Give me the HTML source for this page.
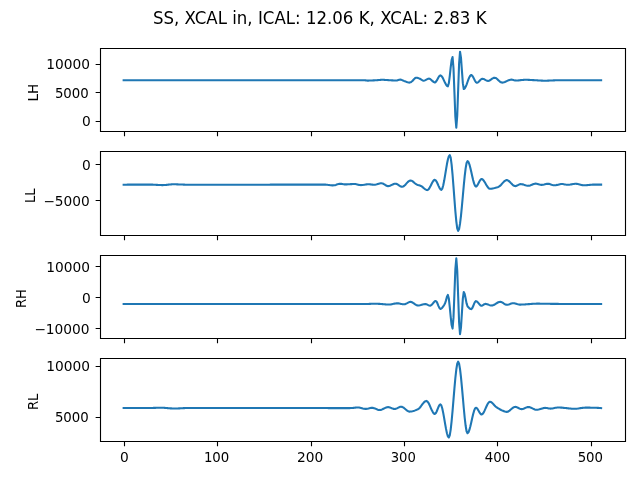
<!DOCTYPE html>
<html><head><meta charset="utf-8"><title>SS, XCAL in</title>
<style>html,body{margin:0;padding:0;background:#fff;}svg{display:block;will-change:transform;}text{font-family:"DejaVu Sans","Liberation Sans",sans-serif;fill:#000;}</style>
</head><body>
<svg width="640" height="480" viewBox="0 0 640 480">
<rect width="640" height="480" fill="#fff"/>
<path d="M123.65 80.30 L124.59 80.30 L125.52 80.30 L126.45 80.30 L127.39 80.30 L128.32 80.30 L129.26 80.30 L130.19 80.30 L131.13 80.30 L132.06 80.30 L133.00 80.30 L133.93 80.30 L134.86 80.30 L135.80 80.30 L136.73 80.30 L137.67 80.30 L138.60 80.30 L139.54 80.30 L140.47 80.30 L141.40 80.30 L142.34 80.30 L143.27 80.30 L144.21 80.30 L145.14 80.30 L146.08 80.30 L147.01 80.30 L147.95 80.30 L148.88 80.30 L149.81 80.30 L150.75 80.30 L151.68 80.30 L152.62 80.30 L153.55 80.30 L154.49 80.30 L155.42 80.30 L156.36 80.30 L157.29 80.30 L158.22 80.30 L159.16 80.30 L160.09 80.30 L161.03 80.30 L161.96 80.30 L162.90 80.30 L163.83 80.30 L164.76 80.30 L165.70 80.30 L166.63 80.30 L167.57 80.30 L168.50 80.30 L169.44 80.30 L170.37 80.30 L171.31 80.30 L172.24 80.30 L173.17 80.30 L174.11 80.30 L175.04 80.30 L175.98 80.30 L176.91 80.30 L177.85 80.30 L178.78 80.30 L179.72 80.30 L180.65 80.30 L181.58 80.30 L182.52 80.30 L183.45 80.30 L184.39 80.30 L185.32 80.30 L186.26 80.30 L187.19 80.30 L188.12 80.30 L189.06 80.30 L189.99 80.30 L190.93 80.30 L191.86 80.30 L192.80 80.30 L193.73 80.30 L194.67 80.30 L195.60 80.30 L196.53 80.30 L197.47 80.30 L198.40 80.30 L199.34 80.30 L200.27 80.30 L201.21 80.30 L202.14 80.30 L203.07 80.30 L204.01 80.30 L204.94 80.30 L205.88 80.30 L206.81 80.30 L207.75 80.30 L208.68 80.30 L209.62 80.30 L210.55 80.30 L211.48 80.30 L212.42 80.30 L213.35 80.30 L214.29 80.30 L215.22 80.30 L216.16 80.30 L217.09 80.30 L218.03 80.30 L218.96 80.30 L219.89 80.30 L220.83 80.30 L221.76 80.30 L222.70 80.30 L223.63 80.30 L224.57 80.30 L225.50 80.30 L226.43 80.30 L227.37 80.30 L228.30 80.30 L229.24 80.30 L230.17 80.30 L231.11 80.30 L232.04 80.30 L232.98 80.30 L233.91 80.30 L234.84 80.30 L235.78 80.30 L236.71 80.30 L237.65 80.30 L238.58 80.30 L239.52 80.30 L240.45 80.30 L241.39 80.30 L242.32 80.30 L243.25 80.30 L244.19 80.30 L245.12 80.30 L246.06 80.30 L246.99 80.30 L247.93 80.30 L248.86 80.30 L249.79 80.30 L250.73 80.30 L251.66 80.30 L252.60 80.30 L253.53 80.30 L254.47 80.30 L255.40 80.30 L256.34 80.30 L257.27 80.30 L258.20 80.30 L259.14 80.30 L260.07 80.30 L261.01 80.30 L261.94 80.30 L262.88 80.30 L263.81 80.30 L264.74 80.30 L265.68 80.30 L266.61 80.30 L267.55 80.30 L268.48 80.30 L269.42 80.30 L270.35 80.30 L271.29 80.30 L272.22 80.30 L273.15 80.30 L274.09 80.30 L275.02 80.30 L275.96 80.30 L276.89 80.30 L277.83 80.30 L278.76 80.30 L279.70 80.30 L280.63 80.30 L281.56 80.30 L282.50 80.30 L283.43 80.30 L284.37 80.30 L285.30 80.30 L286.24 80.30 L287.17 80.30 L288.10 80.30 L289.04 80.30 L289.97 80.30 L290.91 80.30 L291.84 80.30 L292.78 80.30 L293.71 80.30 L294.65 80.30 L295.58 80.30 L296.51 80.30 L297.45 80.30 L298.38 80.30 L299.32 80.30 L300.25 80.30 L301.19 80.30 L302.12 80.30 L303.05 80.30 L303.99 80.30 L304.92 80.30 L305.86 80.30 L306.79 80.30 L307.73 80.30 L308.66 80.30 L309.60 80.30 L310.53 80.30 L311.46 80.30 L312.40 80.30 L313.33 80.30 L314.27 80.30 L315.20 80.30 L316.14 80.30 L317.07 80.30 L318.01 80.30 L318.94 80.30 L319.87 80.30 L320.81 80.30 L321.74 80.30 L322.68 80.30 L323.61 80.30 L324.55 80.30 L325.48 80.30 L326.41 80.30 L327.35 80.30 L328.28 80.30 L329.22 80.30 L330.15 80.30 L331.09 80.30 L332.02 80.30 L332.96 80.30 L333.89 80.30 L334.82 80.30 L335.76 80.30 L336.69 80.30 L337.63 80.30 L338.56 80.30 L339.50 80.30 L340.43 80.30 L341.37 80.30 L342.30 80.30 L343.23 80.30 L344.17 80.30 L345.10 80.30 L346.04 80.30 L346.97 80.30 L347.91 80.30 L348.84 80.30 L349.77 80.30 L350.71 80.30 L351.64 80.30 L352.58 80.30 L353.51 80.30 L354.45 80.30 L355.38 80.30 L356.32 80.30 L357.25 80.30 L358.18 80.30 L359.12 80.30 L360.05 80.30 L360.99 80.30 L361.92 80.30 L362.86 80.30 L363.79 80.30 L364.72 80.30 L365.66 80.38 L366.59 80.52 L367.53 80.60 L368.46 80.59 L369.40 80.57 L370.33 80.54 L371.27 80.50 L372.20 80.45 L373.13 80.40 L374.07 80.35 L375.00 80.30 L375.94 80.24 L376.87 80.17 L377.81 80.09 L378.74 80.00 L379.68 79.93 L380.61 79.86 L381.54 79.82 L382.48 79.80 L383.41 79.82 L384.35 79.86 L385.28 79.92 L386.22 80.00 L387.15 80.07 L388.08 80.14 L389.02 80.20 L389.95 80.25 L390.89 80.30 L391.82 80.35 L392.76 80.40 L393.69 80.44 L394.63 80.47 L395.56 80.49 L396.49 80.50 L397.43 80.36 L398.36 80.05 L399.30 79.74 L400.23 79.60 L401.17 79.75 L402.10 80.10 L403.03 80.53 L403.97 80.90 L404.90 81.24 L405.84 81.61 L406.77 81.98 L407.71 82.29 L408.64 82.52 L409.58 82.60 L410.51 82.33 L411.44 81.80 L412.38 81.05 L413.31 79.99 L414.25 78.90 L415.18 78.04 L416.12 77.70 L417.05 77.80 L417.99 78.05 L418.92 78.39 L419.85 78.75 L420.79 79.25 L421.72 79.90 L422.66 80.46 L423.59 80.70 L424.53 80.54 L425.46 80.16 L426.39 79.65 L427.33 79.14 L428.26 78.76 L429.20 78.60 L430.13 78.97 L431.07 79.79 L432.00 80.60 L432.94 81.38 L433.87 82.15 L434.80 82.50 L435.74 81.97 L436.67 80.66 L437.61 78.95 L438.54 77.24 L439.48 75.93 L440.41 75.40 L441.35 75.87 L442.28 77.10 L443.21 78.85 L444.15 80.85 L445.08 82.85 L446.02 84.60 L446.95 85.83 L447.89 86.30 L448.82 83.26 L449.75 76.02 L450.69 67.38 L451.62 60.14 L452.56 57.10 L453.49 68.12 L454.43 92.37 L455.36 116.61 L456.30 127.63 L457.23 115.78 L458.16 89.71 L459.10 63.64 L460.03 51.79 L460.97 57.61 L461.90 70.40 L462.84 83.19 L463.77 89.00 L464.70 88.40 L465.64 86.81 L466.57 84.57 L467.51 82.00 L468.44 79.43 L469.38 77.19 L470.31 75.60 L471.25 75.00 L472.18 75.58 L473.11 77.02 L474.05 78.90 L474.98 80.78 L475.92 82.22 L476.85 82.80 L477.79 82.50 L478.72 81.75 L479.66 80.78 L480.59 79.80 L481.52 79.05 L482.46 78.75 L483.39 78.91 L484.33 79.31 L485.26 79.83 L486.20 80.34 L487.13 80.74 L488.06 80.90 L489.00 80.72 L489.93 80.27 L490.87 79.64 L491.80 78.96 L492.74 78.33 L493.67 77.88 L494.61 77.70 L495.54 77.91 L496.47 78.47 L497.41 79.25 L498.34 80.15 L499.28 81.05 L500.21 81.83 L501.15 82.39 L502.08 82.60 L503.02 82.52 L503.95 82.29 L504.88 81.95 L505.82 81.54 L506.75 81.10 L507.69 80.66 L508.62 80.25 L509.56 79.91 L510.49 79.68 L511.42 79.60 L512.36 79.69 L513.29 79.92 L514.23 80.18 L515.16 80.41 L516.10 80.50 L517.03 80.48 L517.97 80.43 L518.90 80.35 L519.83 80.25 L520.77 80.15 L521.70 80.05 L522.64 79.95 L523.57 79.87 L524.51 79.82 L525.44 79.80 L526.37 79.81 L527.31 79.83 L528.24 79.86 L529.18 79.90 L530.11 79.95 L531.05 80.00 L531.98 80.05 L532.92 80.10 L533.85 80.15 L534.78 80.20 L535.72 80.25 L536.65 80.30 L537.59 80.36 L538.52 80.42 L539.46 80.48 L540.39 80.54 L541.33 80.59 L542.26 80.63 L543.19 80.67 L544.13 80.69 L545.06 80.70 L546.00 80.69 L546.93 80.68 L547.87 80.65 L548.80 80.62 L549.73 80.58 L550.67 80.54 L551.60 80.50 L552.54 80.45 L553.47 80.40 L554.41 80.36 L555.34 80.32 L556.28 80.28 L557.21 80.25 L558.14 80.22 L559.08 80.21 L560.01 80.20 L560.95 80.20 L561.88 80.20 L562.82 80.20 L563.75 80.20 L564.68 80.20 L565.62 80.20 L566.55 80.20 L567.49 80.20 L568.42 80.20 L569.36 80.20 L570.29 80.20 L571.23 80.20 L572.16 80.20 L573.09 80.20 L574.03 80.20 L574.96 80.20 L575.90 80.20 L576.83 80.20 L577.77 80.20 L578.70 80.20 L579.64 80.20 L580.57 80.20 L581.50 80.20 L582.44 80.20 L583.37 80.20 L584.31 80.20 L585.24 80.20 L586.18 80.20 L587.11 80.20 L588.04 80.20 L588.98 80.20 L589.91 80.20 L590.85 80.20 L591.78 80.20 L592.72 80.20 L593.65 80.20 L594.59 80.20 L595.52 80.20 L596.45 80.20 L597.39 80.20 L598.32 80.20 L599.26 80.20 L600.19 80.20 L601.13 80.20" fill="none" stroke="#1f77b4" stroke-width="2.0833" stroke-linejoin="round" stroke-linecap="square"/>
<path d="M100.5 131.5V48.5M625.5 131.5V48.5M100.5 131.5H625.5M100.5 48.5H625.5" fill="none" stroke="#000" stroke-width="1.1111" stroke-linecap="square"/>
<path d="M124.5 131.5v4.861M217.5 131.5v4.861M311.5 131.5v4.861M404.5 131.5v4.861M497.5 131.5v4.861M591.5 131.5v4.861M100.5 121.5h-4.861M100.5 92.5h-4.861M100.5 64.5h-4.861" fill="none" stroke="#000" stroke-width="1.1111"/>
<path d="M123.65 184.70 L124.59 184.69 L125.52 184.68 L126.45 184.67 L127.39 184.66 L128.32 184.66 L129.26 184.65 L130.19 184.64 L131.13 184.64 L132.06 184.63 L133.00 184.63 L133.93 184.62 L134.86 184.62 L135.80 184.62 L136.73 184.61 L137.67 184.61 L138.60 184.61 L139.54 184.61 L140.47 184.60 L141.40 184.60 L142.34 184.60 L143.27 184.60 L144.21 184.60 L145.14 184.60 L146.08 184.60 L147.01 184.60 L147.95 184.60 L148.88 184.60 L149.81 184.60 L150.75 184.61 L151.68 184.63 L152.62 184.66 L153.55 184.70 L154.49 184.75 L155.42 184.80 L156.36 184.85 L157.29 184.90 L158.22 184.95 L159.16 185.00 L160.09 185.04 L161.03 185.07 L161.96 185.09 L162.90 185.10 L163.83 185.08 L164.76 185.03 L165.70 184.95 L166.63 184.86 L167.57 184.75 L168.50 184.65 L169.44 184.54 L170.37 184.45 L171.31 184.37 L172.24 184.32 L173.17 184.30 L174.11 184.30 L175.04 184.32 L175.98 184.33 L176.91 184.36 L177.85 184.38 L178.78 184.42 L179.72 184.45 L180.65 184.49 L181.58 184.52 L182.52 184.56 L183.45 184.60 L184.39 184.63 L185.32 184.67 L186.26 184.69 L187.19 184.72 L188.12 184.73 L189.06 184.75 L189.99 184.75 L190.93 184.75 L191.86 184.75 L192.80 184.75 L193.73 184.75 L194.67 184.74 L195.60 184.74 L196.53 184.74 L197.47 184.73 L198.40 184.73 L199.34 184.73 L200.27 184.72 L201.21 184.72 L202.14 184.72 L203.07 184.71 L204.01 184.71 L204.94 184.71 L205.88 184.70 L206.81 184.70 L207.75 184.70 L208.68 184.70 L209.62 184.70 L210.55 184.70 L211.48 184.70 L212.42 184.70 L213.35 184.70 L214.29 184.70 L215.22 184.70 L216.16 184.70 L217.09 184.70 L218.03 184.70 L218.96 184.70 L219.89 184.70 L220.83 184.70 L221.76 184.70 L222.70 184.70 L223.63 184.70 L224.57 184.70 L225.50 184.70 L226.43 184.70 L227.37 184.70 L228.30 184.70 L229.24 184.70 L230.17 184.70 L231.11 184.70 L232.04 184.70 L232.98 184.70 L233.91 184.70 L234.84 184.70 L235.78 184.70 L236.71 184.70 L237.65 184.70 L238.58 184.70 L239.52 184.70 L240.45 184.70 L241.39 184.70 L242.32 184.70 L243.25 184.70 L244.19 184.70 L245.12 184.70 L246.06 184.70 L246.99 184.70 L247.93 184.70 L248.86 184.70 L249.79 184.70 L250.73 184.70 L251.66 184.70 L252.60 184.70 L253.53 184.70 L254.47 184.70 L255.40 184.70 L256.34 184.70 L257.27 184.69 L258.20 184.69 L259.14 184.69 L260.07 184.69 L261.01 184.69 L261.94 184.69 L262.88 184.68 L263.81 184.68 L264.74 184.68 L265.68 184.68 L266.61 184.67 L267.55 184.67 L268.48 184.67 L269.42 184.67 L270.35 184.66 L271.29 184.66 L272.22 184.66 L273.15 184.66 L274.09 184.65 L275.02 184.65 L275.96 184.65 L276.89 184.64 L277.83 184.64 L278.76 184.64 L279.70 184.64 L280.63 184.63 L281.56 184.63 L282.50 184.63 L283.43 184.63 L284.37 184.62 L285.30 184.62 L286.24 184.62 L287.17 184.62 L288.10 184.61 L289.04 184.61 L289.97 184.61 L290.91 184.61 L291.84 184.61 L292.78 184.61 L293.71 184.60 L294.65 184.60 L295.58 184.60 L296.51 184.60 L297.45 184.60 L298.38 184.60 L299.32 184.60 L300.25 184.60 L301.19 184.60 L302.12 184.60 L303.05 184.60 L303.99 184.60 L304.92 184.60 L305.86 184.60 L306.79 184.60 L307.73 184.60 L308.66 184.60 L309.60 184.60 L310.53 184.60 L311.46 184.60 L312.40 184.60 L313.33 184.60 L314.27 184.60 L315.20 184.60 L316.14 184.60 L317.07 184.60 L318.01 184.60 L318.94 184.60 L319.87 184.60 L320.81 184.60 L321.74 184.60 L322.68 184.60 L323.61 184.60 L324.55 184.60 L325.48 184.63 L326.41 184.70 L327.35 184.81 L328.28 184.93 L329.22 185.07 L330.15 185.19 L331.09 185.30 L332.02 185.37 L332.96 185.40 L333.89 185.33 L334.82 185.15 L335.76 184.89 L336.69 184.60 L337.63 184.31 L338.56 184.05 L339.50 183.87 L340.43 183.80 L341.37 183.86 L342.30 184.01 L343.23 184.19 L344.17 184.34 L345.10 184.40 L346.04 184.39 L346.97 184.36 L347.91 184.31 L348.84 184.26 L349.77 184.20 L350.71 184.14 L351.64 184.09 L352.58 184.04 L353.51 184.01 L354.45 184.00 L355.38 184.06 L356.32 184.22 L357.25 184.43 L358.18 184.67 L359.12 184.88 L360.05 185.04 L360.99 185.10 L361.92 185.06 L362.86 184.96 L363.79 184.82 L364.72 184.65 L365.66 184.48 L366.59 184.34 L367.53 184.24 L368.46 184.20 L369.40 184.24 L370.33 184.36 L371.27 184.50 L372.20 184.64 L373.13 184.76 L374.07 184.80 L375.00 184.73 L375.94 184.56 L376.87 184.31 L377.81 184.02 L378.74 183.74 L379.68 183.49 L380.61 183.32 L381.54 183.25 L382.48 183.41 L383.41 183.82 L384.35 184.37 L385.28 184.98 L386.22 185.53 L387.15 185.94 L388.08 186.10 L389.02 186.00 L389.95 185.72 L390.89 185.34 L391.82 184.90 L392.76 184.46 L393.69 184.07 L394.63 183.80 L395.56 183.70 L396.49 183.87 L397.43 184.31 L398.36 184.92 L399.30 185.58 L400.23 186.19 L401.17 186.63 L402.10 186.80 L403.03 186.58 L403.97 186.00 L404.90 185.17 L405.84 184.17 L406.77 183.13 L407.71 182.13 L408.64 181.30 L409.58 180.72 L410.51 180.50 L411.44 180.69 L412.38 181.17 L413.31 181.87 L414.25 182.67 L415.18 183.47 L416.12 184.18 L417.05 184.70 L417.99 185.03 L418.92 185.30 L419.85 185.57 L420.79 185.90 L421.72 186.42 L422.66 187.13 L423.59 187.93 L424.53 188.73 L425.46 189.43 L426.39 189.91 L427.33 190.10 L428.26 189.66 L429.20 188.49 L430.13 186.84 L431.07 184.95 L432.00 183.06 L432.94 181.41 L433.87 180.24 L434.80 179.80 L435.74 180.35 L436.67 181.78 L437.61 183.74 L438.54 185.86 L439.48 187.82 L440.41 189.25 L441.35 189.80 L442.28 188.61 L443.21 185.42 L444.15 180.80 L445.08 175.32 L446.02 169.56 L446.95 164.08 L447.89 159.46 L448.82 156.27 L449.75 155.08 L450.69 157.68 L451.62 164.65 L452.56 174.74 L453.49 186.70 L454.43 199.29 L455.36 211.25 L456.30 221.35 L457.23 228.32 L458.16 230.92 L459.10 228.96 L460.03 223.66 L460.97 215.84 L461.90 206.34 L462.84 196.01 L463.77 185.68 L464.70 176.18 L465.64 168.36 L466.57 163.05 L467.51 161.10 L468.44 161.97 L469.38 164.32 L470.31 167.71 L471.25 171.73 L472.18 175.97 L473.11 179.99 L474.05 183.38 L474.98 185.73 L475.92 186.60 L476.85 186.04 L477.79 184.63 L478.72 182.80 L479.66 180.97 L480.59 179.56 L481.52 179.00 L482.46 179.33 L483.39 180.23 L484.33 181.53 L485.26 183.07 L486.20 184.68 L487.13 186.22 L488.06 187.52 L489.00 188.42 L489.93 188.75 L490.87 188.72 L491.80 188.63 L492.74 188.49 L493.67 188.30 L494.61 188.07 L495.54 187.81 L496.47 187.52 L497.41 187.22 L498.34 186.90 L499.28 186.41 L500.21 185.65 L501.15 184.71 L502.08 183.67 L503.02 182.62 L503.95 181.65 L504.88 180.85 L505.82 180.30 L506.75 180.10 L507.69 180.31 L508.62 180.86 L509.56 181.66 L510.49 182.60 L511.42 183.60 L512.36 184.54 L513.29 185.34 L514.23 185.89 L515.16 186.10 L516.10 185.95 L517.03 185.58 L517.97 185.10 L518.90 184.62 L519.83 184.25 L520.77 184.10 L521.70 184.17 L522.64 184.36 L523.57 184.62 L524.51 184.93 L525.44 185.23 L526.37 185.49 L527.31 185.68 L528.24 185.75 L529.18 185.66 L530.11 185.41 L531.05 185.07 L531.98 184.67 L532.92 184.28 L533.85 183.94 L534.78 183.69 L535.72 183.60 L536.65 183.70 L537.59 183.94 L538.52 184.25 L539.46 184.56 L540.39 184.80 L541.33 184.90 L542.26 184.84 L543.19 184.68 L544.13 184.47 L545.06 184.23 L546.00 184.02 L546.93 183.86 L547.87 183.80 L548.80 183.88 L549.73 184.10 L550.67 184.39 L551.60 184.71 L552.54 185.00 L553.47 185.22 L554.41 185.30 L555.34 185.24 L556.28 185.10 L557.21 184.89 L558.14 184.65 L559.08 184.41 L560.01 184.20 L560.95 184.06 L561.88 184.00 L562.82 184.06 L563.75 184.21 L564.68 184.40 L565.62 184.59 L566.55 184.74 L567.49 184.80 L568.42 184.77 L569.36 184.67 L570.29 184.54 L571.23 184.38 L572.16 184.22 L573.09 184.06 L574.03 183.93 L574.96 183.83 L575.90 183.80 L576.83 183.85 L577.77 183.99 L578.70 184.19 L579.64 184.43 L580.57 184.67 L581.50 184.91 L582.44 185.11 L583.37 185.25 L584.31 185.30 L585.24 185.28 L586.18 185.23 L587.11 185.15 L588.04 185.05 L588.98 184.95 L589.91 184.85 L590.85 184.75 L591.78 184.67 L592.72 184.62 L593.65 184.60 L594.59 184.60 L595.52 184.60 L596.45 184.60 L597.39 184.60 L598.32 184.60 L599.26 184.60 L600.19 184.60 L601.13 184.60" fill="none" stroke="#1f77b4" stroke-width="2.0833" stroke-linejoin="round" stroke-linecap="square"/>
<path d="M100.5 235.5V151.5M625.5 235.5V151.5M100.5 235.5H625.5M100.5 151.5H625.5" fill="none" stroke="#000" stroke-width="1.1111" stroke-linecap="square"/>
<path d="M124.5 235.5v4.861M217.5 235.5v4.861M311.5 235.5v4.861M404.5 235.5v4.861M497.5 235.5v4.861M591.5 235.5v4.861M100.5 200.5h-4.861M100.5 164.5h-4.861" fill="none" stroke="#000" stroke-width="1.1111"/>
<path d="M123.65 304.00 L124.59 304.00 L125.52 304.00 L126.45 304.00 L127.39 304.00 L128.32 304.00 L129.26 304.00 L130.19 304.00 L131.13 304.00 L132.06 304.01 L133.00 304.01 L133.93 304.01 L134.86 304.01 L135.80 304.01 L136.73 304.01 L137.67 304.01 L138.60 304.01 L139.54 304.01 L140.47 304.01 L141.40 304.01 L142.34 304.01 L143.27 304.01 L144.21 304.01 L145.14 304.01 L146.08 304.01 L147.01 304.01 L147.95 304.01 L148.88 304.01 L149.81 304.01 L150.75 304.02 L151.68 304.02 L152.62 304.02 L153.55 304.02 L154.49 304.02 L155.42 304.02 L156.36 304.02 L157.29 304.02 L158.22 304.02 L159.16 304.02 L160.09 304.02 L161.03 304.02 L161.96 304.02 L162.90 304.02 L163.83 304.02 L164.76 304.02 L165.70 304.02 L166.63 304.02 L167.57 304.02 L168.50 304.02 L169.44 304.02 L170.37 304.02 L171.31 304.02 L172.24 304.02 L173.17 304.02 L174.11 304.03 L175.04 304.03 L175.98 304.03 L176.91 304.03 L177.85 304.03 L178.78 304.03 L179.72 304.03 L180.65 304.03 L181.58 304.03 L182.52 304.03 L183.45 304.03 L184.39 304.03 L185.32 304.03 L186.26 304.03 L187.19 304.03 L188.12 304.03 L189.06 304.03 L189.99 304.03 L190.93 304.03 L191.86 304.03 L192.80 304.03 L193.73 304.03 L194.67 304.03 L195.60 304.03 L196.53 304.03 L197.47 304.03 L198.40 304.03 L199.34 304.03 L200.27 304.03 L201.21 304.03 L202.14 304.03 L203.07 304.03 L204.01 304.04 L204.94 304.04 L205.88 304.04 L206.81 304.04 L207.75 304.04 L208.68 304.04 L209.62 304.04 L210.55 304.04 L211.48 304.04 L212.42 304.04 L213.35 304.04 L214.29 304.04 L215.22 304.04 L216.16 304.04 L217.09 304.04 L218.03 304.04 L218.96 304.04 L219.89 304.04 L220.83 304.04 L221.76 304.04 L222.70 304.04 L223.63 304.04 L224.57 304.04 L225.50 304.04 L226.43 304.04 L227.37 304.04 L228.30 304.04 L229.24 304.04 L230.17 304.04 L231.11 304.04 L232.04 304.04 L232.98 304.04 L233.91 304.04 L234.84 304.04 L235.78 304.04 L236.71 304.04 L237.65 304.04 L238.58 304.04 L239.52 304.04 L240.45 304.04 L241.39 304.04 L242.32 304.04 L243.25 304.04 L244.19 304.04 L245.12 304.04 L246.06 304.04 L246.99 304.04 L247.93 304.04 L248.86 304.04 L249.79 304.04 L250.73 304.04 L251.66 304.04 L252.60 304.04 L253.53 304.05 L254.47 304.05 L255.40 304.05 L256.34 304.05 L257.27 304.05 L258.20 304.05 L259.14 304.05 L260.07 304.05 L261.01 304.05 L261.94 304.05 L262.88 304.05 L263.81 304.05 L264.74 304.05 L265.68 304.05 L266.61 304.05 L267.55 304.05 L268.48 304.05 L269.42 304.05 L270.35 304.05 L271.29 304.05 L272.22 304.05 L273.15 304.05 L274.09 304.05 L275.02 304.05 L275.96 304.05 L276.89 304.05 L277.83 304.05 L278.76 304.05 L279.70 304.05 L280.63 304.05 L281.56 304.05 L282.50 304.05 L283.43 304.05 L284.37 304.05 L285.30 304.05 L286.24 304.05 L287.17 304.05 L288.10 304.05 L289.04 304.05 L289.97 304.05 L290.91 304.05 L291.84 304.05 L292.78 304.05 L293.71 304.05 L294.65 304.05 L295.58 304.05 L296.51 304.05 L297.45 304.05 L298.38 304.05 L299.32 304.05 L300.25 304.05 L301.19 304.05 L302.12 304.05 L303.05 304.05 L303.99 304.05 L304.92 304.05 L305.86 304.05 L306.79 304.05 L307.73 304.05 L308.66 304.05 L309.60 304.05 L310.53 304.05 L311.46 304.05 L312.40 304.05 L313.33 304.05 L314.27 304.05 L315.20 304.05 L316.14 304.05 L317.07 304.05 L318.01 304.05 L318.94 304.05 L319.87 304.05 L320.81 304.05 L321.74 304.05 L322.68 304.05 L323.61 304.05 L324.55 304.05 L325.48 304.05 L326.41 304.05 L327.35 304.05 L328.28 304.05 L329.22 304.05 L330.15 304.05 L331.09 304.05 L332.02 304.05 L332.96 304.05 L333.89 304.05 L334.82 304.05 L335.76 304.05 L336.69 304.05 L337.63 304.05 L338.56 304.05 L339.50 304.05 L340.43 304.05 L341.37 304.05 L342.30 304.05 L343.23 304.05 L344.17 304.05 L345.10 304.05 L346.04 304.05 L346.97 304.05 L347.91 304.05 L348.84 304.05 L349.77 304.05 L350.71 304.05 L351.64 304.05 L352.58 304.05 L353.51 304.05 L354.45 304.05 L355.38 304.05 L356.32 304.05 L357.25 304.05 L358.18 304.05 L359.12 304.05 L360.05 304.05 L360.99 304.05 L361.92 304.05 L362.86 304.05 L363.79 304.05 L364.72 304.05 L365.66 304.04 L366.59 304.02 L367.53 303.99 L368.46 303.94 L369.40 303.90 L370.33 303.85 L371.27 303.81 L372.20 303.76 L373.13 303.73 L374.07 303.71 L375.00 303.70 L375.94 303.71 L376.87 303.74 L377.81 303.78 L378.74 303.84 L379.68 303.91 L380.61 303.98 L381.54 304.06 L382.48 304.14 L383.41 304.22 L384.35 304.29 L385.28 304.36 L386.22 304.42 L387.15 304.46 L388.08 304.49 L389.02 304.50 L389.95 304.46 L390.89 304.35 L391.82 304.19 L392.76 304.00 L393.69 303.80 L394.63 303.61 L395.56 303.45 L396.49 303.34 L397.43 303.30 L398.36 303.36 L399.30 303.50 L400.23 303.69 L401.17 303.91 L402.10 304.10 L403.03 304.24 L403.97 304.30 L404.90 304.17 L405.84 303.82 L406.77 303.36 L407.71 302.84 L408.64 302.38 L409.58 302.03 L410.51 301.90 L411.44 302.05 L412.38 302.46 L413.31 303.04 L414.25 303.70 L415.18 304.36 L416.12 304.94 L417.05 305.35 L417.99 305.50 L418.92 305.44 L419.85 305.28 L420.79 305.06 L421.72 304.80 L422.66 304.54 L423.59 304.32 L424.53 304.16 L425.46 304.10 L426.39 304.27 L427.33 304.66 L428.26 305.14 L429.20 305.53 L430.13 305.70 L431.07 305.35 L432.00 304.48 L432.94 303.35 L433.87 302.22 L434.80 301.35 L435.74 301.00 L436.67 301.82 L437.61 303.78 L438.54 306.12 L439.48 308.08 L440.41 308.90 L441.35 308.58 L442.28 307.73 L443.21 306.47 L444.15 304.94 L445.08 303.30 L446.02 300.38 L446.95 296.71 L447.89 294.90 L448.82 298.40 L449.75 306.76 L450.69 316.74 L451.62 325.10 L452.56 328.60 L453.49 317.63 L454.43 293.48 L455.36 269.34 L456.30 258.36 L457.23 270.21 L458.16 296.28 L459.10 322.35 L460.03 334.20 L460.97 327.61 L461.90 313.10 L462.84 298.59 L463.77 292.00 L464.70 294.00 L465.64 298.53 L466.57 303.36 L467.51 306.25 L468.44 307.36 L469.38 308.27 L470.31 308.88 L471.25 309.10 L472.18 308.27 L473.11 306.28 L474.05 303.92 L474.98 301.93 L475.92 301.10 L476.85 301.45 L477.79 302.32 L478.72 303.45 L479.66 304.58 L480.59 305.45 L481.52 305.80 L482.46 305.50 L483.39 304.85 L484.33 304.20 L485.26 303.90 L486.20 303.99 L487.13 304.22 L488.06 304.53 L489.00 304.87 L489.93 305.18 L490.87 305.41 L491.80 305.50 L492.74 305.37 L493.67 305.03 L494.61 304.54 L495.54 303.96 L496.47 303.34 L497.41 302.76 L498.34 302.27 L499.28 301.93 L500.21 301.80 L501.15 301.97 L502.08 302.39 L503.02 302.98 L503.95 303.62 L504.88 304.21 L505.82 304.63 L506.75 304.80 L507.69 304.71 L508.62 304.48 L509.56 304.17 L510.49 303.83 L511.42 303.52 L512.36 303.29 L513.29 303.20 L514.23 303.28 L515.16 303.48 L516.10 303.75 L517.03 304.05 L517.97 304.32 L518.90 304.52 L519.83 304.60 L520.77 304.59 L521.70 304.57 L522.64 304.54 L523.57 304.49 L524.51 304.44 L525.44 304.38 L526.37 304.31 L527.31 304.24 L528.24 304.16 L529.18 304.09 L530.11 304.01 L531.05 303.94 L531.98 303.87 L532.92 303.81 L533.85 303.76 L534.78 303.71 L535.72 303.68 L536.65 303.66 L537.59 303.65 L538.52 303.65 L539.46 303.66 L540.39 303.67 L541.33 303.68 L542.26 303.69 L543.19 303.70 L544.13 303.72 L545.06 303.74 L546.00 303.76 L546.93 303.77 L547.87 303.79 L548.80 303.81 L549.73 303.83 L550.67 303.85 L551.60 303.86 L552.54 303.87 L553.47 303.89 L554.41 303.89 L555.34 303.90 L556.28 303.90 L557.21 303.91 L558.14 303.91 L559.08 303.92 L560.01 303.92 L560.95 303.92 L561.88 303.93 L562.82 303.93 L563.75 303.93 L564.68 303.94 L565.62 303.94 L566.55 303.94 L567.49 303.95 L568.42 303.95 L569.36 303.95 L570.29 303.95 L571.23 303.96 L572.16 303.96 L573.09 303.96 L574.03 303.96 L574.96 303.97 L575.90 303.97 L576.83 303.97 L577.77 303.97 L578.70 303.98 L579.64 303.98 L580.57 303.98 L581.50 303.98 L582.44 303.98 L583.37 303.98 L584.31 303.99 L585.24 303.99 L586.18 303.99 L587.11 303.99 L588.04 303.99 L588.98 303.99 L589.91 303.99 L590.85 303.99 L591.78 304.00 L592.72 304.00 L593.65 304.00 L594.59 304.00 L595.52 304.00 L596.45 304.00 L597.39 304.00 L598.32 304.00 L599.26 304.00 L600.19 304.00 L601.13 304.00" fill="none" stroke="#1f77b4" stroke-width="2.0833" stroke-linejoin="round" stroke-linecap="square"/>
<path d="M100.5 338.5V255.5M625.5 338.5V255.5M100.5 338.5H625.5M100.5 255.5H625.5" fill="none" stroke="#000" stroke-width="1.1111" stroke-linecap="square"/>
<path d="M124.5 338.5v4.861M217.5 338.5v4.861M311.5 338.5v4.861M404.5 338.5v4.861M497.5 338.5v4.861M591.5 338.5v4.861M100.5 328.5h-4.861M100.5 297.5h-4.861M100.5 266.5h-4.861" fill="none" stroke="#000" stroke-width="1.1111"/>
<path d="M123.65 408.05 L124.59 408.05 L125.52 408.05 L126.45 408.05 L127.39 408.05 L128.32 408.05 L129.26 408.05 L130.19 408.05 L131.13 408.05 L132.06 408.05 L133.00 408.05 L133.93 408.05 L134.86 408.05 L135.80 408.05 L136.73 408.05 L137.67 408.05 L138.60 408.05 L139.54 408.05 L140.47 408.05 L141.40 408.05 L142.34 408.05 L143.27 408.05 L144.21 408.05 L145.14 408.05 L146.08 408.05 L147.01 408.05 L147.95 408.05 L148.88 408.04 L149.81 408.03 L150.75 408.01 L151.68 407.98 L152.62 407.95 L153.55 407.91 L154.49 407.88 L155.42 407.84 L156.36 407.80 L157.29 407.77 L158.22 407.74 L159.16 407.72 L160.09 407.71 L161.03 407.70 L161.96 407.71 L162.90 407.74 L163.83 407.79 L164.76 407.86 L165.70 407.93 L166.63 408.01 L167.57 408.10 L168.50 408.19 L169.44 408.27 L170.37 408.34 L171.31 408.41 L172.24 408.46 L173.17 408.49 L174.11 408.50 L175.04 408.49 L175.98 408.48 L176.91 408.45 L177.85 408.42 L178.78 408.39 L179.72 408.34 L180.65 408.30 L181.58 408.25 L182.52 408.20 L183.45 408.15 L184.39 408.11 L185.32 408.06 L186.26 408.03 L187.19 408.00 L188.12 407.97 L189.06 407.96 L189.99 407.95 L190.93 407.95 L191.86 407.95 L192.80 407.95 L193.73 407.95 L194.67 407.95 L195.60 407.95 L196.53 407.95 L197.47 407.95 L198.40 407.95 L199.34 407.95 L200.27 407.95 L201.21 407.95 L202.14 407.95 L203.07 407.95 L204.01 407.95 L204.94 407.95 L205.88 407.95 L206.81 407.95 L207.75 407.95 L208.68 407.96 L209.62 407.96 L210.55 407.96 L211.48 407.96 L212.42 407.96 L213.35 407.96 L214.29 407.96 L215.22 407.96 L216.16 407.96 L217.09 407.96 L218.03 407.96 L218.96 407.96 L219.89 407.96 L220.83 407.96 L221.76 407.96 L222.70 407.96 L223.63 407.97 L224.57 407.97 L225.50 407.97 L226.43 407.97 L227.37 407.97 L228.30 407.97 L229.24 407.97 L230.17 407.97 L231.11 407.97 L232.04 407.97 L232.98 407.97 L233.91 407.97 L234.84 407.98 L235.78 407.98 L236.71 407.98 L237.65 407.98 L238.58 407.98 L239.52 407.98 L240.45 407.98 L241.39 407.98 L242.32 407.98 L243.25 407.98 L244.19 407.99 L245.12 407.99 L246.06 407.99 L246.99 407.99 L247.93 407.99 L248.86 407.99 L249.79 407.99 L250.73 407.99 L251.66 407.99 L252.60 408.00 L253.53 408.00 L254.47 408.00 L255.40 408.00 L256.34 408.00 L257.27 408.00 L258.20 408.00 L259.14 408.00 L260.07 408.00 L261.01 408.01 L261.94 408.01 L262.88 408.01 L263.81 408.01 L264.74 408.01 L265.68 408.01 L266.61 408.01 L267.55 408.01 L268.48 408.01 L269.42 408.02 L270.35 408.02 L271.29 408.02 L272.22 408.02 L273.15 408.02 L274.09 408.02 L275.02 408.02 L275.96 408.02 L276.89 408.02 L277.83 408.03 L278.76 408.03 L279.70 408.03 L280.63 408.03 L281.56 408.03 L282.50 408.03 L283.43 408.03 L284.37 408.03 L285.30 408.03 L286.24 408.04 L287.17 408.04 L288.10 408.04 L289.04 408.04 L289.97 408.04 L290.91 408.04 L291.84 408.04 L292.78 408.04 L293.71 408.04 L294.65 408.04 L295.58 408.05 L296.51 408.05 L297.45 408.05 L298.38 408.05 L299.32 408.05 L300.25 408.05 L301.19 408.05 L302.12 408.05 L303.05 408.05 L303.99 408.05 L304.92 408.05 L305.86 408.06 L306.79 408.06 L307.73 408.06 L308.66 408.06 L309.60 408.06 L310.53 408.06 L311.46 408.06 L312.40 408.06 L313.33 408.07 L314.27 408.07 L315.20 408.07 L316.14 408.07 L317.07 408.07 L318.01 408.07 L318.94 408.07 L319.87 408.07 L320.81 408.08 L321.74 408.08 L322.68 408.08 L323.61 408.08 L324.55 408.08 L325.48 408.08 L326.41 408.08 L327.35 408.08 L328.28 408.09 L329.22 408.09 L330.15 408.09 L331.09 408.09 L332.02 408.09 L332.96 408.09 L333.89 408.09 L334.82 408.09 L335.76 408.09 L336.69 408.09 L337.63 408.09 L338.56 408.10 L339.50 408.10 L340.43 408.10 L341.37 408.10 L342.30 408.10 L343.23 408.10 L344.17 408.10 L345.10 408.10 L346.04 408.10 L346.97 408.10 L347.91 408.10 L348.84 408.10 L349.77 408.10 L350.71 408.08 L351.64 408.02 L352.58 407.94 L353.51 407.85 L354.45 407.75 L355.38 407.66 L356.32 407.58 L357.25 407.52 L358.18 407.50 L359.12 407.56 L360.05 407.72 L360.99 407.94 L361.92 408.20 L362.86 408.46 L363.79 408.68 L364.72 408.84 L365.66 408.90 L366.59 408.84 L367.53 408.68 L368.46 408.47 L369.40 408.23 L370.33 408.02 L371.27 407.86 L372.20 407.80 L373.13 407.89 L374.07 408.14 L375.00 408.50 L375.94 408.90 L376.87 409.30 L377.81 409.66 L378.74 409.91 L379.68 410.00 L380.61 409.90 L381.54 409.63 L382.48 409.25 L383.41 408.79 L384.35 408.31 L385.28 407.85 L386.22 407.47 L387.15 407.20 L388.08 407.10 L389.02 407.21 L389.95 407.48 L390.89 407.85 L391.82 408.25 L392.76 408.62 L393.69 408.89 L394.63 409.00 L395.56 408.87 L396.49 408.54 L397.43 408.09 L398.36 407.61 L399.30 407.16 L400.23 406.83 L401.17 406.70 L402.10 406.87 L403.03 407.32 L403.97 407.97 L404.90 408.74 L405.84 409.56 L406.77 410.33 L407.71 410.98 L408.64 411.43 L409.58 411.60 L410.51 411.56 L411.44 411.44 L412.38 411.25 L413.31 411.01 L414.25 410.71 L415.18 410.37 L416.12 410.00 L417.05 409.61 L417.99 409.20 L418.92 408.59 L419.85 407.65 L420.79 406.50 L421.72 405.23 L422.66 403.95 L423.59 402.78 L424.53 401.80 L425.46 401.14 L426.39 400.90 L427.33 401.35 L428.26 402.55 L429.20 404.30 L430.13 406.36 L431.07 408.54 L432.00 410.60 L432.94 412.35 L433.87 413.55 L434.80 414.00 L435.74 413.28 L436.67 411.49 L437.61 409.15 L438.54 406.81 L439.48 405.02 L440.41 404.30 L441.35 405.44 L442.28 408.49 L443.21 412.90 L444.15 418.14 L445.08 423.65 L446.02 428.88 L446.95 433.30 L447.89 436.35 L448.82 437.49 L449.75 435.36 L450.69 429.60 L451.62 421.10 L452.56 410.79 L453.49 399.57 L454.43 388.34 L455.36 378.03 L456.30 369.53 L457.23 363.77 L458.16 361.65 L459.10 363.65 L460.03 369.09 L460.97 377.10 L461.90 386.83 L462.84 397.42 L463.77 408.01 L464.70 417.74 L465.64 425.76 L466.57 431.20 L467.51 433.20 L468.44 432.33 L469.38 429.98 L470.31 426.59 L471.25 422.57 L472.18 418.33 L473.11 414.31 L474.05 410.92 L474.98 408.57 L475.92 407.70 L476.85 408.20 L477.79 409.46 L478.72 411.10 L479.66 412.74 L480.59 414.00 L481.52 414.50 L482.46 414.06 L483.39 412.88 L484.33 411.18 L485.26 409.16 L486.20 407.04 L487.13 405.02 L488.06 403.32 L489.00 402.14 L489.93 401.70 L490.87 401.93 L491.80 402.54 L492.74 403.41 L493.67 404.43 L494.61 405.48 L495.54 406.44 L496.47 407.20 L497.41 407.81 L498.34 408.41 L499.28 408.97 L500.21 409.50 L501.15 409.98 L502.08 410.42 L503.02 410.80 L503.95 411.17 L504.88 411.52 L505.82 411.79 L506.75 411.90 L507.69 411.73 L508.62 411.27 L509.56 410.60 L510.49 409.81 L511.42 408.99 L512.36 408.20 L513.29 407.53 L514.23 407.07 L515.16 406.90 L516.10 407.02 L517.03 407.34 L517.97 407.77 L518.90 408.23 L519.83 408.66 L520.77 408.98 L521.70 409.10 L522.64 408.98 L523.57 408.68 L524.51 408.27 L525.44 407.83 L526.37 407.42 L527.31 407.12 L528.24 407.00 L529.18 407.10 L530.11 407.35 L531.05 407.73 L531.98 408.17 L532.92 408.63 L533.85 409.07 L534.78 409.45 L535.72 409.70 L536.65 409.80 L537.59 409.73 L538.52 409.56 L539.46 409.31 L540.39 409.01 L541.33 408.69 L542.26 408.39 L543.19 408.14 L544.13 407.97 L545.06 407.90 L546.00 407.95 L546.93 408.08 L547.87 408.25 L548.80 408.42 L549.73 408.55 L550.67 408.60 L551.60 408.55 L552.54 408.43 L553.47 408.25 L554.41 408.05 L555.34 407.85 L556.28 407.67 L557.21 407.55 L558.14 407.50 L559.08 407.51 L560.01 407.54 L560.95 407.60 L561.88 407.66 L562.82 407.75 L563.75 407.84 L564.68 407.94 L565.62 408.04 L566.55 408.15 L567.49 408.26 L568.42 408.36 L569.36 408.46 L570.29 408.55 L571.23 408.64 L572.16 408.70 L573.09 408.76 L574.03 408.79 L574.96 408.80 L575.90 408.77 L576.83 408.70 L577.77 408.59 L578.70 408.45 L579.64 408.30 L580.57 408.15 L581.50 408.00 L582.44 407.86 L583.37 407.75 L584.31 407.68 L585.24 407.65 L586.18 407.65 L587.11 407.65 L588.04 407.65 L588.98 407.66 L589.91 407.66 L590.85 407.67 L591.78 407.68 L592.72 407.70 L593.65 407.72 L594.59 407.74 L595.52 407.77 L596.45 407.81 L597.39 407.85 L598.32 407.90 L599.26 407.96 L600.19 408.03 L601.13 408.10" fill="none" stroke="#1f77b4" stroke-width="2.0833" stroke-linejoin="round" stroke-linecap="square"/>
<path d="M100.5 441.5V358.5M625.5 441.5V358.5M100.5 441.5H625.5M100.5 358.5H625.5" fill="none" stroke="#000" stroke-width="1.1111" stroke-linecap="square"/>
<path d="M124.5 441.5v4.861M217.5 441.5v4.861M311.5 441.5v4.861M404.5 441.5v4.861M497.5 441.5v4.861M591.5 441.5v4.861M100.5 417.5h-4.861M100.5 366.5h-4.861" fill="none" stroke="#000" stroke-width="1.1111"/>
<text x="90.806" y="125.727" font-size="14.800" text-anchor="end" textLength="8.77" lengthAdjust="spacingAndGlyphs">0</text>
<text x="88.806" y="97.628" font-size="13.350" text-anchor="end" textLength="33.91" lengthAdjust="spacingAndGlyphs">5000</text>
<text x="90.056" y="68.529" font-size="14.800" text-anchor="end" textLength="43.70" lengthAdjust="spacingAndGlyphs">10000</text>
<text x="37.678" y="92.712" font-size="13.500" text-anchor="middle" transform="rotate(-90 37.678 92.712)">LH</text>
<text x="89.806" y="205.527" font-size="13.200" text-anchor="end" textLength="46.47" lengthAdjust="spacingAndGlyphs">−5000</text>
<text x="90.806" y="169.727" font-size="14.800" text-anchor="end" textLength="8.77" lengthAdjust="spacingAndGlyphs">0</text>
<text x="34.626" y="195.747" font-size="13.200" text-anchor="middle" transform="rotate(-90 34.626 195.747)">LL</text>
<text x="89.556" y="333.527" font-size="13.200" text-anchor="end" textLength="55.32" lengthAdjust="spacingAndGlyphs">−10000</text>
<text x="90.806" y="302.527" font-size="14.800" text-anchor="end" textLength="8.77" lengthAdjust="spacingAndGlyphs">0</text>
<text x="90.056" y="271.527" font-size="14.800" text-anchor="end" textLength="43.70" lengthAdjust="spacingAndGlyphs">10000</text>
<text x="25.539" y="298.531" font-size="13.200" text-anchor="middle" transform="rotate(-90 25.539 298.531)">RH</text>
<text x="124.402" y="461.553" font-size="14.800" text-anchor="middle" textLength="8.77" lengthAdjust="spacingAndGlyphs">0</text>
<text x="216.591" y="461.553" font-size="13.350" text-anchor="middle" textLength="25.43" lengthAdjust="spacingAndGlyphs">100</text>
<text x="310.030" y="461.553" font-size="14.800" text-anchor="middle" textLength="26.27" lengthAdjust="spacingAndGlyphs">200</text>
<text x="403.219" y="461.553" font-size="13.200" text-anchor="middle">300</text>
<text x="497.409" y="461.553" font-size="14.500" text-anchor="middle" textLength="25.43" lengthAdjust="spacingAndGlyphs">400</text>
<text x="590.348" y="461.553" font-size="13.350" text-anchor="middle" textLength="25.43" lengthAdjust="spacingAndGlyphs">500</text>
<text x="88.806" y="421.526" font-size="13.350" text-anchor="end" textLength="33.91" lengthAdjust="spacingAndGlyphs">5000</text>
<text x="90.056" y="370.527" font-size="14.800" text-anchor="end" textLength="43.70" lengthAdjust="spacingAndGlyphs">10000</text>
<text x="37.678" y="401.816" font-size="13.200" text-anchor="middle" transform="rotate(-90 37.678 401.816)">RL</text>
<text x="319.750" y="23.514" font-size="16.850" text-anchor="middle" textLength="333.60" lengthAdjust="spacingAndGlyphs">SS, XCAL in, ICAL: 12.06 K, XCAL: 2.83 K</text>
</svg>
</body></html>
